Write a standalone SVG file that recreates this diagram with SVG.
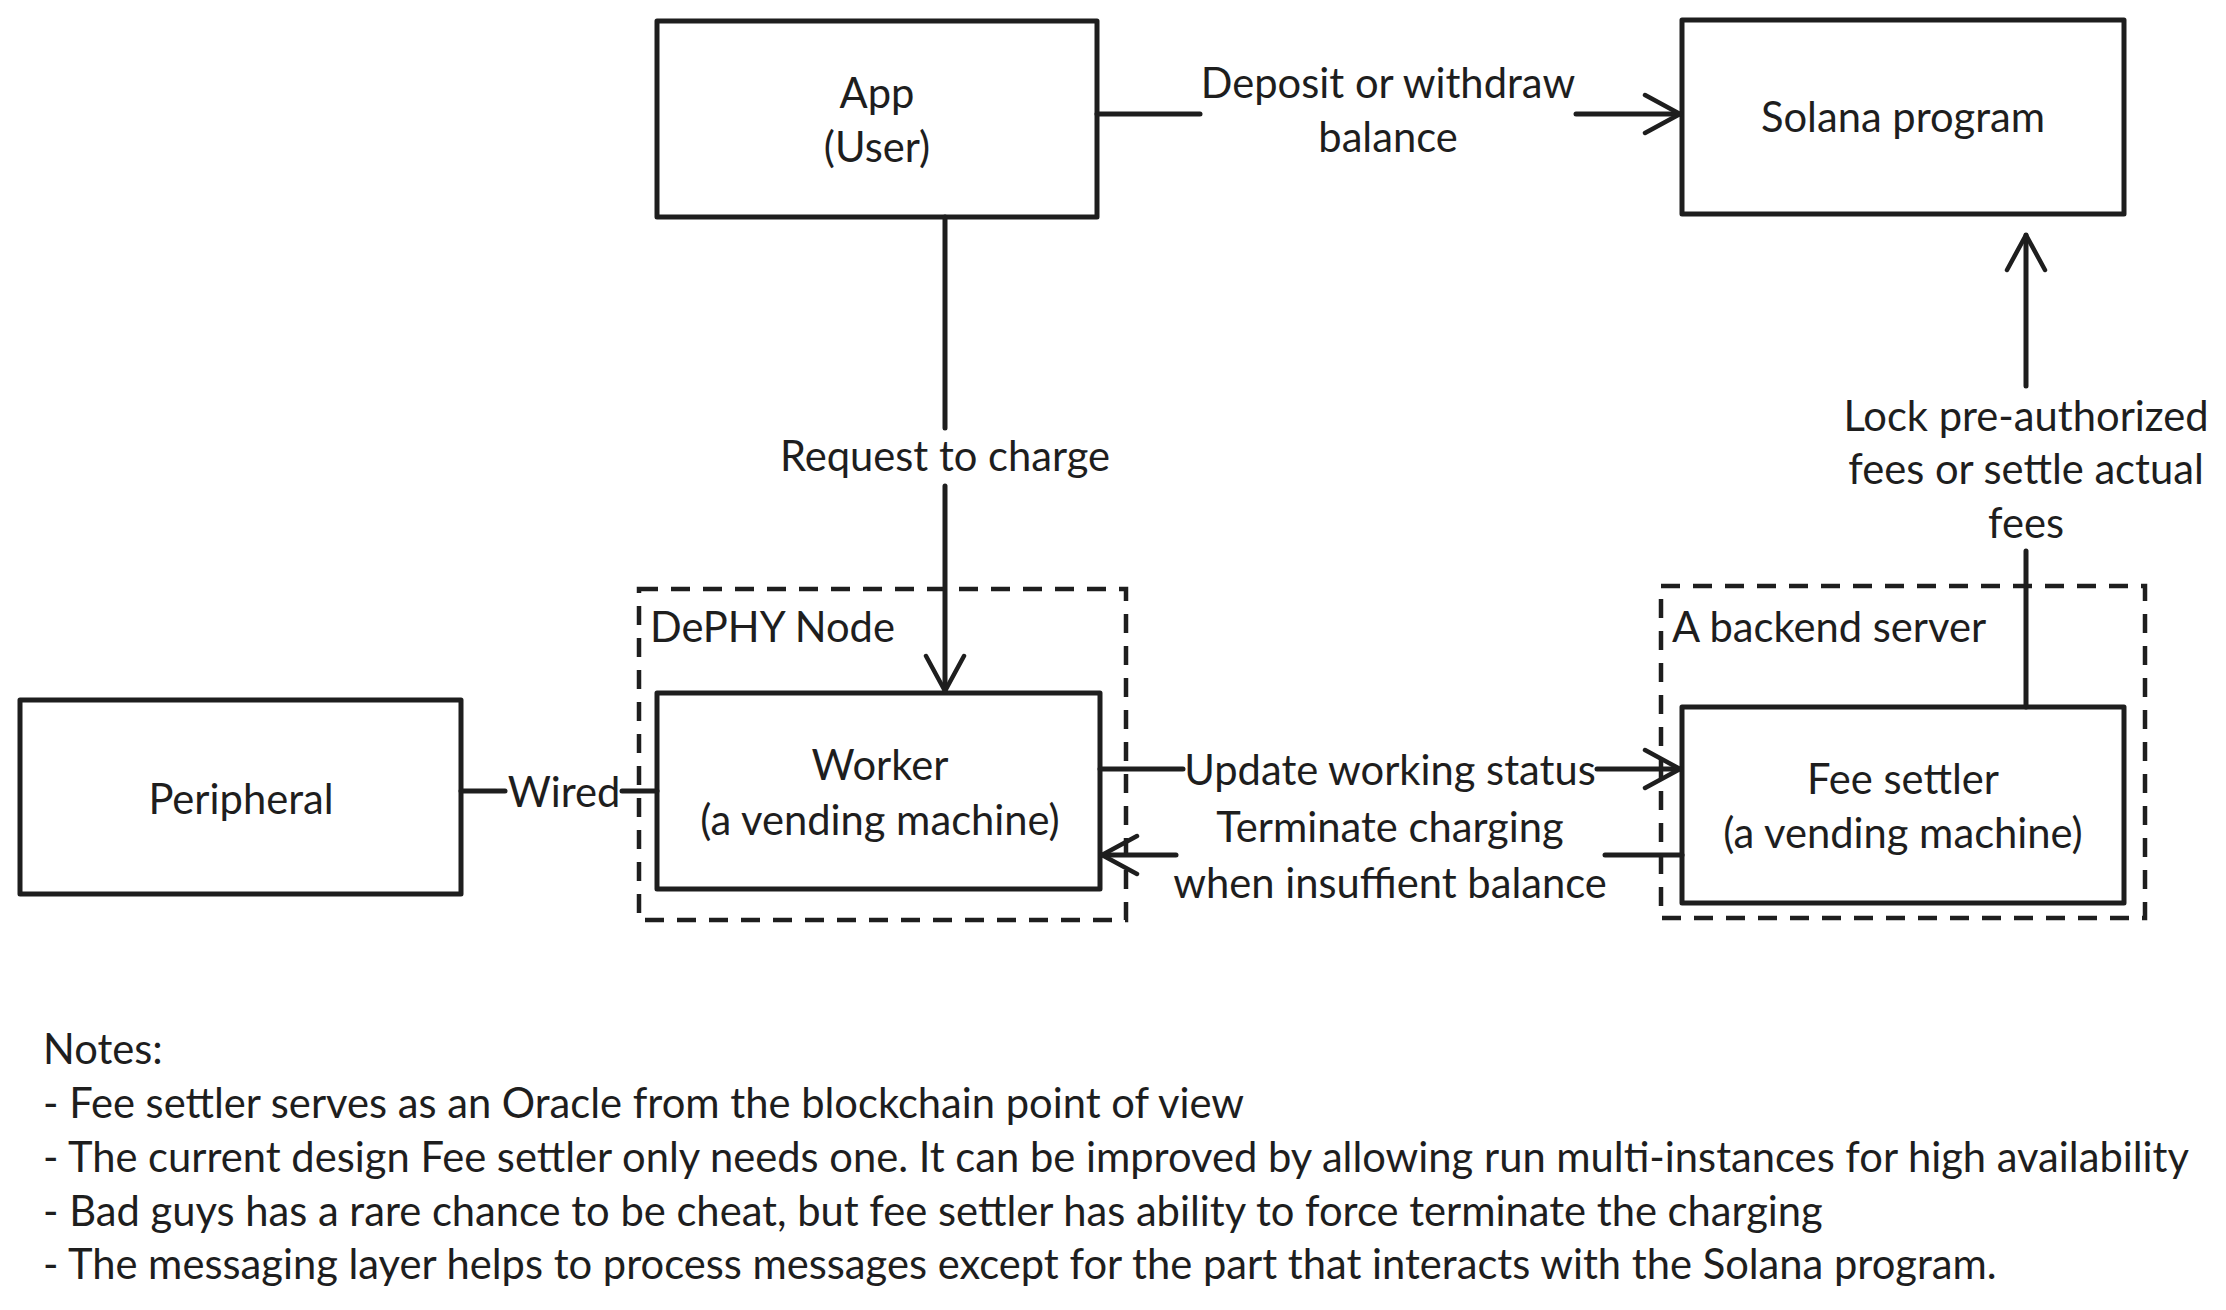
<svg xmlns="http://www.w3.org/2000/svg" width="2226" height="1310" viewBox="0 0 2226 1310">
<defs>
<style>
.box{fill:#ffffff;stroke:#1e1e1e;stroke-width:5;stroke-linejoin:round}
.grp{fill:none;stroke:#1e1e1e;stroke-width:4.5;stroke-dasharray:19 13}
.ln{fill:none;stroke:#1e1e1e;stroke-width:5;stroke-linecap:round}
text{font-family:Lato,"Noto Sans",sans-serif;font-size:41.7px;fill:#1e1e1e}
.c{text-anchor:middle;dominant-baseline:central}
.l{text-anchor:start;dominant-baseline:central}
</style>
<marker id="ah" viewBox="0 0 40 44" markerWidth="40" markerHeight="44" refX="38" refY="22" orient="auto" markerUnits="userSpaceOnUse">
<path d="M3,3 L38,22 L3,41" fill="none" stroke="#1e1e1e" stroke-width="4.5" stroke-linecap="round" stroke-linejoin="round"/>
</marker>
</defs>
<rect width="2226" height="1310" fill="#ffffff"/>

<g id="dephy-node">
<rect class="grp" x="639" y="589" width="487" height="331"/>
<text class="l" x="650" y="626">DePHY Node</text>
</g>
<g id="backend-server">
<rect class="grp" x="1661" y="586" width="484" height="332"/>
<text class="l" x="1672" y="626">A backend server</text>
</g>

<g id="app">
<rect class="box" x="657" y="21" width="440" height="196"/>
<text class="c" x="877" y="92">App</text>
<text class="c" x="877" y="146">(User)</text>
</g>
<g id="solana">
<rect class="box" x="1682" y="20" width="442" height="194"/>
<text class="c" x="1903" y="116">Solana program</text>
</g>
<g id="peripheral">
<rect class="box" x="20" y="700" width="441" height="194"/>
<text class="c" x="241" y="798">Peripheral</text>
</g>
<g id="worker">
<rect class="box" x="657" y="693" width="443" height="196"/>
<text class="c" x="880" y="764">Worker</text>
<text class="c" x="880" y="819">(a vending machine)</text>
</g>
<g id="fee-settler">
<rect class="box" x="1682" y="707" width="442" height="196"/>
<text class="c" x="1903" y="778">Fee settler</text>
<text class="c" x="1903" y="832">(a vending machine)</text>
</g>

<g id="connectors">
<path class="ln" d="M1097,114 L1200,114"/>
<path class="ln" d="M1576,114 L1680,114" marker-end="url(#ah)"/>
<text class="c" x="1388" y="82">Deposit or withdraw</text>
<text class="c" x="1388" y="136">balance</text>

<path class="ln" d="M945,217 L945,428"/>
<path class="ln" d="M945,486 L945,691" marker-end="url(#ah)"/>
<text class="c" x="945" y="455">Request to charge</text>

<path class="ln" d="M461,791 L505,791"/>
<path class="ln" d="M622,791 L657,791"/>
<text class="c" x="564" y="791">Wired</text>

<path class="ln" d="M1100,769 L1183,769"/>
<path class="ln" d="M1597,769 L1680,769" marker-end="url(#ah)"/>
<text class="c" x="1390" y="769">Update working status</text>

<path class="ln" d="M1682,855 L1605,855"/>
<path class="ln" d="M1176,855 L1102,855" marker-end="url(#ah)"/>
<text class="c" x="1390" y="826">Terminate charging</text>
<text class="c" x="1390" y="882">when insuffient balance</text>

<path class="ln" d="M2026,707 L2026,551"/>
<path class="ln" d="M2026,386 L2026,235" marker-end="url(#ah)"/>
<text class="c" x="2026" y="415">Lock pre-authorized</text>
<text class="c" x="2026" y="468">fees or settle actual</text>
<text class="c" x="2026" y="522">fees</text>
</g>

<g id="notes">
<text class="l" x="43" y="1048">Notes:</text>
<text class="l" x="43" y="1102">- Fee settler serves as an Oracle from the blockchain point of view</text>
<text class="l" x="43" y="1156">- The current design Fee settler only needs one. It can be improved by allowing run multi-instances for high availability</text>
<text class="l" x="43" y="1210">- Bad guys has a rare chance to be cheat, but fee settler has ability to force terminate the charging</text>
<text class="l" x="43" y="1263">- The messaging layer helps to process messages except for the part that interacts with the Solana program.</text>
</g>
</svg>
